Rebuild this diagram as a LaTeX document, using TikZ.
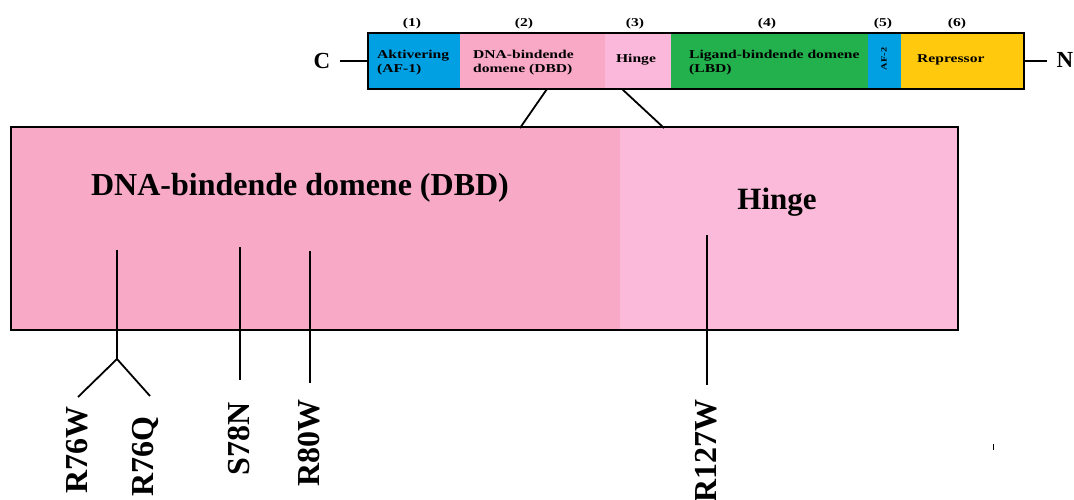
\documentclass[tikz,border=0pt]{standalone}
\usepackage{graphicx}
\usepackage{fontspec}
\setmainfont{Liberation Serif}
\definecolor{afblue}{HTML}{00A0E3}
\definecolor{dbdpink}{HTML}{F9A8C6}
\definecolor{hingepink}{HTML}{FCB8DA}
\definecolor{lbdgreen}{HTML}{22B14C}
\definecolor{repyellow}{HTML}{FFC90E}
\definecolor{bigdbd}{HTML}{F8A9C6}
\definecolor{bighinge}{HTML}{FBBAD9}
\newcommand{\wide}[1]{\scalebox{1.3}[1]{#1}}
\begin{document}
\begin{tikzpicture}[x=1pt,y=-1pt,
  small/.style={font=\bfseries\fontsize{12}{14}\selectfont, inner sep=0pt, anchor=base west},
  num/.style={font=\bfseries\fontsize{12}{14}\selectfont, inner sep=0pt, anchor=base},
  ends/.style={font=\bfseries\fontsize{23}{26}\selectfont, inner sep=0pt, anchor=base},
  mut/.style={font=\bfseries\fontsize{32}{36}\selectfont, inner sep=0pt, rotate=90, anchor=base east},
  big/.style={font=\bfseries\fontsize{32}{36}\selectfont, inner sep=0pt, anchor=base},
  ln/.style={line width=1.8pt}]
\useasboundingbox (0,0) rectangle (1074,500);
% top bar
\fill[afblue] (368,33) rectangle (460,89);
\fill[dbdpink] (460,33) rectangle (605,89);
\fill[hingepink] (605,33) rectangle (671,89);
\fill[lbdgreen] (671,33) rectangle (868,89);
\fill[afblue] (868,33) rectangle (901,89);
\fill[repyellow] (901,33) rectangle (1024,89);
\draw[line width=2pt] (368,33) rectangle (1024,89);
\coordinate (barL) at (368,61);
\coordinate (barR) at (1024,61);
\coordinate (dbdB) at (547,89);
\coordinate (hinB) at (622,89);
% top labels
\node[num] (n1) at (412,27) {\wide{(1)}};
\node[num] (n2) at (524,27) {\wide{(2)}};
\node[num] (n3) at (635,27) {\wide{(3)}};
\node[num] (n4) at (767,27) {\wide{(4)}};
\node[num] (n5) at (883,27) {\wide{(5)}};
\node[num] (n6) at (957,27) {\wide{(6)}};
\node[small] (t1a) at (377,59) {\wide{Aktivering}};
\node[small] (t1b) at (377,73) {\wide{(AF-1)}};
\node[small] (t2a) at (473,59) {\wide{DNA-bindende}};
\node[small] (t2b) at (473,73) {\wide{domene (DBD)}};
\node[small, anchor=base] (t3) at (636,63) {\wide{Hinge}};
\node[small] (t4a) at (689,59) {\wide{Ligand-bindende domene}};
\node[small] (t4b) at (689,73) {\wide{(LBD)}};
\node[font=\bfseries\fontsize{8}{9}\selectfont, inner sep=0pt, rotate=90] (t5) at (884,59) {\scalebox{1.3}[1]{AF-2}};
\node[small] (t6) at (917,63) {\wide{Repressor}};
\node[ends] (C) at (322,69) {C};
\node[ends] (N) at (1065,68) {N};
\draw[line width=1.2pt] (340,61) -- (barL);
\draw[line width=1.2pt] (barR) -- (1047,61);
% big box
\fill[bigdbd] (11,127) rectangle (620,330);
\fill[bighinge] (620,127) rectangle (958,330);
\draw[line width=2pt] (11,127) rectangle (958,330);
\coordinate (bigA) at (520,128);
\coordinate (bigB) at (664,128);
\draw[ln] (dbdB) -- (bigA);
\draw[ln] (hinB) -- (bigB);
\node[big] (bigdbdt) at (300,195) {DNA-bindende domene (DBD)};
\node[big, font=\bfseries\fontsize{31}{36}\selectfont] (bighin) at (777,209) {Hinge};
% mutation lines
\coordinate (m1top) at (117,250);
\coordinate (m1j) at (117,359);
\coordinate (m1a) at (78,397);
\coordinate (m1b) at (150,396);
\draw[ln] (m1top) -- (m1j) -- (m1a);
\draw[ln] (m1j) -- (m1b);
\coordinate (m2top) at (240,247);
\coordinate (m2b) at (240,380);
\draw[ln] (m2top) -- (m2b);
\coordinate (m3top) at (310,251);
\coordinate (m3b) at (310,383);
\draw[ln] (m3top) -- (m3b);
\coordinate (m4top) at (707,235);
\coordinate (m4b) at (707,385);
\draw[ln] (m4top) -- (m4b);
% mutation labels
\node[mut] (R76W) at (87,406) {R76W};
\node[mut] (R76Q) at (153,416) {R76Q};
\node[mut] (S78N) at (249,402) {S78N};
\node[mut] (R80W) at (319,399) {R80W};
\node[mut] (R127W) at (716,399) {R127W};
\fill (992.5,444) rectangle (994,450);
\end{tikzpicture}
\end{document}
